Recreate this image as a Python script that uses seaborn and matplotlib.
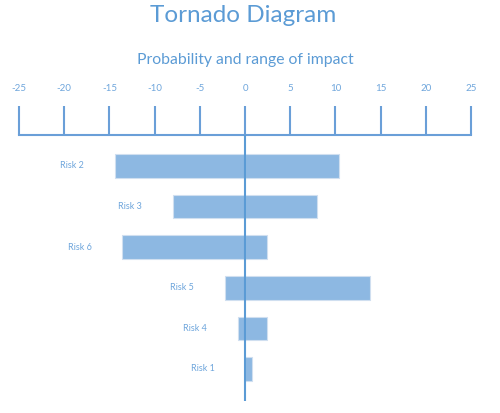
import matplotlib
matplotlib.use("Agg")
import matplotlib.pyplot as plt
import seaborn as sns
import pandas as pd

# Risk ranges (low / high impact)
risks = ["Risk 2", "Risk 3", "Risk 6", "Risk 5", "Risk 4", "Risk 1"]
low = [-14.4, -8.0, -13.6, -2.25, -0.8, 0.0]
high = [10.4, 8.0, 2.45, 13.8, 2.45, 0.8]
ticks = [-25, -20, -15, -10, -5, 0, 5, 10, 15, 20, 25]

df = pd.DataFrame({"risk": risks, "low": low, "high": high})

sns.set_style("white")
plt.rcParams["font.family"] = ["Lato", "DejaVu Sans"]

blue = "#5B9BD5"
bar_col = "#8DB8E2"
label_col = "#6FA6DC"

fig = plt.figure(figsize=(5.0, 4.13), dpi=100)
ax = fig.add_axes([0.038, 0.029, 0.904, 0.644])

# low part and high part, same colour, meeting at zero
sns.barplot(data=df, x="low", y="risk", order=risks, color=bar_col, saturation=1,
            width=0.58, edgecolor="#D0DFF0", linewidth=0.8, ax=ax)
sns.barplot(data=df, x="high", y="risk", order=risks, color=bar_col, saturation=1,
            width=0.58, edgecolor="#D0DFF0", linewidth=0.8, ax=ax)

ax.axvline(0, color=blue, lw=1.5, zorder=5)

# labels to the left of each bar
for i, r in df.iterrows():
    ax.annotate(r["risk"], xy=(r["low"], i), xytext=(-22, 0), textcoords="offset points",
                ha="right", va="center", fontsize=6.5, color=label_col)

ax.set_xlim(-25, 25)
ax.set_ylim(5.79, -0.76)
ax.set_xticks(ticks)
ax.set_xticklabels([str(t) for t in ticks])
ax.xaxis.tick_top()
ax.tick_params(axis="x", direction="out", length=21, width=1.5, color="#6A9FD8",
               labelcolor=label_col, labelsize=7, pad=9)
ax.tick_params(axis="y", left=False, labelleft=False)
ax.set_xlabel("")
ax.set_ylabel("")
for s in ["left", "right", "bottom"]:
    ax.spines[s].set_visible(False)
ax.spines["top"].set_color("#6A9FD8")
ax.spines["top"].set_linewidth(1.5)

fig.text(0.487, 0.962, "Tornado Diagram", ha="center", va="center", fontsize=17.5, color=blue)
fig.text(0.491, 0.855, "Probability and range of impact", ha="center", va="center",
         fontsize=11.3, color=blue)

fig.savefig("out.png", dpi=100)
